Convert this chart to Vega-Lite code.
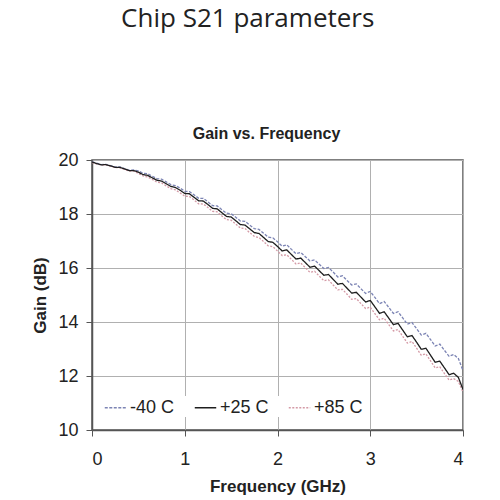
{
  "$schema": "https://vega.github.io/schema/vega-lite/v6.json",
  "background": "white",
  "padding": {"left": 31, "top": 6, "right": 10, "bottom": 0},
  "title": {"text": "Chip S21 parameters", "anchor": "middle", "frame": "bounds", "font": "Open Sans", "fontSize": 26, "fontWeight": "normal", "color": "#222222", "offset": 93},
  "vconcat": [
    {
      "width": 371,
      "height": 270,
      "title": {"text": "Gain vs. Frequency", "anchor": "middle", "frame": "group", "dx": -11, "font": "'Liberation Sans Narrow', 'Liberation Sans', sans-serif", "fontSize": 16, "fontWeight": "bold", "color": "#222222", "offset": 9},
      "data": {"values": [
        {"f":0.00,"g":19.93,"t":"-40 C"},{"f":0.05,"g":19.88,"t":"-40 C"},{"f":0.10,"g":19.83,"t":"-40 C"},{"f":0.15,"g":19.84,"t":"-40 C"},{"f":0.20,"g":19.79,"t":"-40 C"},{"f":0.25,"g":19.74,"t":"-40 C"},{"f":0.30,"g":19.74,"t":"-40 C"},{"f":0.35,"g":19.68,"t":"-40 C"},{"f":0.40,"g":19.62,"t":"-40 C"},{"f":0.45,"g":19.63,"t":"-40 C"},
        {"f":0.50,"g":19.60,"t":"-40 C"},{"f":0.55,"g":19.51,"t":"-40 C"},{"f":0.60,"g":19.49,"t":"-40 C"},{"f":0.65,"g":19.40,"t":"-40 C"},{"f":0.70,"g":19.31,"t":"-40 C"},{"f":0.75,"g":19.29,"t":"-40 C"},{"f":0.80,"g":19.19,"t":"-40 C"},{"f":0.85,"g":19.09,"t":"-40 C"},{"f":0.90,"g":19.05,"t":"-40 C"},{"f":0.95,"g":18.96,"t":"-40 C"},
        {"f":1.00,"g":18.84,"t":"-40 C"},{"f":1.05,"g":18.83,"t":"-40 C"},{"f":1.10,"g":18.71,"t":"-40 C"},{"f":1.15,"g":18.58,"t":"-40 C"},{"f":1.20,"g":18.58,"t":"-40 C"},{"f":1.25,"g":18.45,"t":"-40 C"},{"f":1.30,"g":18.31,"t":"-40 C"},{"f":1.35,"g":18.30,"t":"-40 C"},{"f":1.40,"g":18.16,"t":"-40 C"},{"f":1.45,"g":18.03,"t":"-40 C"},
        {"f":1.50,"g":18.01,"t":"-40 C"},{"f":1.55,"g":17.88,"t":"-40 C"},{"f":1.60,"g":17.74,"t":"-40 C"},{"f":1.65,"g":17.73,"t":"-40 C"},{"f":1.70,"g":17.59,"t":"-40 C"},{"f":1.75,"g":17.46,"t":"-40 C"},{"f":1.80,"g":17.43,"t":"-40 C"},{"f":1.85,"g":17.29,"t":"-40 C"},{"f":1.90,"g":17.14,"t":"-40 C"},{"f":1.95,"g":17.12,"t":"-40 C"},
        {"f":2.00,"g":16.97,"t":"-40 C"},{"f":2.05,"g":16.81,"t":"-40 C"},{"f":2.10,"g":16.86,"t":"-40 C"},{"f":2.15,"g":16.69,"t":"-40 C"},{"f":2.20,"g":16.53,"t":"-40 C"},{"f":2.25,"g":16.58,"t":"-40 C"},{"f":2.30,"g":16.42,"t":"-40 C"},{"f":2.35,"g":16.26,"t":"-40 C"},{"f":2.40,"g":16.30,"t":"-40 C"},{"f":2.45,"g":16.14,"t":"-40 C"},
        {"f":2.50,"g":15.98,"t":"-40 C"},{"f":2.55,"g":16.02,"t":"-40 C"},{"f":2.60,"g":15.85,"t":"-40 C"},{"f":2.65,"g":15.67,"t":"-40 C"},{"f":2.70,"g":15.71,"t":"-40 C"},{"f":2.75,"g":15.54,"t":"-40 C"},{"f":2.80,"g":15.37,"t":"-40 C"},{"f":2.85,"g":15.41,"t":"-40 C"},{"f":2.90,"g":15.23,"t":"-40 C"},{"f":2.95,"g":15.06,"t":"-40 C"},
        {"f":3.00,"g":15.13,"t":"-40 C"},{"f":3.05,"g":14.91,"t":"-40 C"},{"f":3.10,"g":14.68,"t":"-40 C"},{"f":3.15,"g":14.76,"t":"-40 C"},{"f":3.20,"g":14.54,"t":"-40 C"},{"f":3.25,"g":14.32,"t":"-40 C"},{"f":3.30,"g":14.38,"t":"-40 C"},{"f":3.35,"g":14.15,"t":"-40 C"},{"f":3.40,"g":13.92,"t":"-40 C"},{"f":3.45,"g":13.98,"t":"-40 C"},
        {"f":3.50,"g":13.75,"t":"-40 C"},{"f":3.55,"g":13.52,"t":"-40 C"},{"f":3.60,"g":13.58,"t":"-40 C"},{"f":3.65,"g":13.35,"t":"-40 C"},{"f":3.70,"g":13.11,"t":"-40 C"},{"f":3.75,"g":13.18,"t":"-40 C"},{"f":3.80,"g":12.95,"t":"-40 C"},{"f":3.85,"g":12.73,"t":"-40 C"},{"f":3.90,"g":12.80,"t":"-40 C"},{"f":3.95,"g":12.65,"t":"-40 C"},
        {"f":4.00,"g":12.20,"t":"-40 C"},
        {"f":0.00,"g":19.90,"t":"+85 C"},{"f":0.05,"g":19.86,"t":"+85 C"},{"f":0.10,"g":19.81,"t":"+85 C"},{"f":0.15,"g":19.82,"t":"+85 C"},{"f":0.20,"g":19.77,"t":"+85 C"},{"f":0.25,"g":19.72,"t":"+85 C"},{"f":0.30,"g":19.71,"t":"+85 C"},{"f":0.35,"g":19.65,"t":"+85 C"},{"f":0.40,"g":19.59,"t":"+85 C"},{"f":0.45,"g":19.59,"t":"+85 C"},
        {"f":0.50,"g":19.50,"t":"+85 C"},{"f":0.55,"g":19.41,"t":"+85 C"},{"f":0.60,"g":19.37,"t":"+85 C"},{"f":0.65,"g":19.28,"t":"+85 C"},{"f":0.70,"g":19.18,"t":"+85 C"},{"f":0.75,"g":19.15,"t":"+85 C"},{"f":0.80,"g":19.04,"t":"+85 C"},{"f":0.85,"g":18.94,"t":"+85 C"},{"f":0.90,"g":18.89,"t":"+85 C"},{"f":0.95,"g":18.78,"t":"+85 C"},
        {"f":1.00,"g":18.66,"t":"+85 C"},{"f":1.05,"g":18.65,"t":"+85 C"},{"f":1.10,"g":18.52,"t":"+85 C"},{"f":1.15,"g":18.38,"t":"+85 C"},{"f":1.20,"g":18.37,"t":"+85 C"},{"f":1.25,"g":18.24,"t":"+85 C"},{"f":1.30,"g":18.10,"t":"+85 C"},{"f":1.35,"g":18.08,"t":"+85 C"},{"f":1.40,"g":17.93,"t":"+85 C"},{"f":1.45,"g":17.79,"t":"+85 C"},
        {"f":1.50,"g":17.77,"t":"+85 C"},{"f":1.55,"g":17.63,"t":"+85 C"},{"f":1.60,"g":17.48,"t":"+85 C"},{"f":1.65,"g":17.46,"t":"+85 C"},{"f":1.70,"g":17.31,"t":"+85 C"},{"f":1.75,"g":17.17,"t":"+85 C"},{"f":1.80,"g":17.13,"t":"+85 C"},{"f":1.85,"g":16.98,"t":"+85 C"},{"f":1.90,"g":16.82,"t":"+85 C"},{"f":1.95,"g":16.79,"t":"+85 C"},
        {"f":2.00,"g":16.63,"t":"+85 C"},{"f":2.05,"g":16.46,"t":"+85 C"},{"f":2.10,"g":16.49,"t":"+85 C"},{"f":2.15,"g":16.32,"t":"+85 C"},{"f":2.20,"g":16.15,"t":"+85 C"},{"f":2.25,"g":16.19,"t":"+85 C"},{"f":2.30,"g":16.01,"t":"+85 C"},{"f":2.35,"g":15.84,"t":"+85 C"},{"f":2.40,"g":15.88,"t":"+85 C"},{"f":2.45,"g":15.70,"t":"+85 C"},
        {"f":2.50,"g":15.53,"t":"+85 C"},{"f":2.55,"g":15.56,"t":"+85 C"},{"f":2.60,"g":15.37,"t":"+85 C"},{"f":2.65,"g":15.19,"t":"+85 C"},{"f":2.70,"g":15.21,"t":"+85 C"},{"f":2.75,"g":15.03,"t":"+85 C"},{"f":2.80,"g":14.84,"t":"+85 C"},{"f":2.85,"g":14.87,"t":"+85 C"},{"f":2.90,"g":14.68,"t":"+85 C"},{"f":2.95,"g":14.50,"t":"+85 C"},
        {"f":3.00,"g":14.55,"t":"+85 C"},{"f":3.05,"g":14.31,"t":"+85 C"},{"f":3.10,"g":14.08,"t":"+85 C"},{"f":3.15,"g":14.14,"t":"+85 C"},{"f":3.20,"g":13.90,"t":"+85 C"},{"f":3.25,"g":13.67,"t":"+85 C"},{"f":3.30,"g":13.72,"t":"+85 C"},{"f":3.35,"g":13.47,"t":"+85 C"},{"f":3.40,"g":13.22,"t":"+85 C"},{"f":3.45,"g":13.28,"t":"+85 C"},
        {"f":3.50,"g":13.03,"t":"+85 C"},{"f":3.55,"g":12.77,"t":"+85 C"},{"f":3.60,"g":12.82,"t":"+85 C"},{"f":3.65,"g":12.56,"t":"+85 C"},{"f":3.70,"g":12.30,"t":"+85 C"},{"f":3.75,"g":12.34,"t":"+85 C"},{"f":3.80,"g":12.09,"t":"+85 C"},{"f":3.85,"g":11.85,"t":"+85 C"},{"f":3.90,"g":11.90,"t":"+85 C"},{"f":3.95,"g":11.80,"t":"+85 C"},
        {"f":4.00,"g":11.40,"t":"+85 C"},
        {"f":0.00,"g":19.92,"t":"+25 C"},{"f":0.05,"g":19.87,"t":"+25 C"},{"f":0.10,"g":19.82,"t":"+25 C"},{"f":0.15,"g":19.83,"t":"+25 C"},{"f":0.20,"g":19.78,"t":"+25 C"},{"f":0.25,"g":19.73,"t":"+25 C"},{"f":0.30,"g":19.73,"t":"+25 C"},{"f":0.35,"g":19.67,"t":"+25 C"},{"f":0.40,"g":19.61,"t":"+25 C"},{"f":0.45,"g":19.61,"t":"+25 C"},
        {"f":0.50,"g":19.55,"t":"+25 C"},{"f":0.55,"g":19.46,"t":"+25 C"},{"f":0.60,"g":19.43,"t":"+25 C"},{"f":0.65,"g":19.34,"t":"+25 C"},{"f":0.70,"g":19.25,"t":"+25 C"},{"f":0.75,"g":19.22,"t":"+25 C"},{"f":0.80,"g":19.12,"t":"+25 C"},{"f":0.85,"g":19.02,"t":"+25 C"},{"f":0.90,"g":18.98,"t":"+25 C"},{"f":0.95,"g":18.88,"t":"+25 C"},
        {"f":1.00,"g":18.76,"t":"+25 C"},{"f":1.05,"g":18.75,"t":"+25 C"},{"f":1.10,"g":18.62,"t":"+25 C"},{"f":1.15,"g":18.49,"t":"+25 C"},{"f":1.20,"g":18.48,"t":"+25 C"},{"f":1.25,"g":18.35,"t":"+25 C"},{"f":1.30,"g":18.21,"t":"+25 C"},{"f":1.35,"g":18.19,"t":"+25 C"},{"f":1.40,"g":18.05,"t":"+25 C"},{"f":1.45,"g":17.91,"t":"+25 C"},
        {"f":1.50,"g":17.89,"t":"+25 C"},{"f":1.55,"g":17.75,"t":"+25 C"},{"f":1.60,"g":17.61,"t":"+25 C"},{"f":1.65,"g":17.59,"t":"+25 C"},{"f":1.70,"g":17.45,"t":"+25 C"},{"f":1.75,"g":17.31,"t":"+25 C"},{"f":1.80,"g":17.28,"t":"+25 C"},{"f":1.85,"g":17.13,"t":"+25 C"},{"f":1.90,"g":16.98,"t":"+25 C"},{"f":1.95,"g":16.95,"t":"+25 C"},
        {"f":2.00,"g":16.80,"t":"+25 C"},{"f":2.05,"g":16.63,"t":"+25 C"},{"f":2.10,"g":16.67,"t":"+25 C"},{"f":2.15,"g":16.50,"t":"+25 C"},{"f":2.20,"g":16.33,"t":"+25 C"},{"f":2.25,"g":16.37,"t":"+25 C"},{"f":2.30,"g":16.20,"t":"+25 C"},{"f":2.35,"g":16.03,"t":"+25 C"},{"f":2.40,"g":16.07,"t":"+25 C"},{"f":2.45,"g":15.90,"t":"+25 C"},
        {"f":2.50,"g":15.73,"t":"+25 C"},{"f":2.55,"g":15.76,"t":"+25 C"},{"f":2.60,"g":15.58,"t":"+25 C"},{"f":2.65,"g":15.40,"t":"+25 C"},{"f":2.70,"g":15.43,"t":"+25 C"},{"f":2.75,"g":15.25,"t":"+25 C"},{"f":2.80,"g":15.07,"t":"+25 C"},{"f":2.85,"g":15.10,"t":"+25 C"},{"f":2.90,"g":14.92,"t":"+25 C"},{"f":2.95,"g":14.74,"t":"+25 C"},
        {"f":3.00,"g":14.80,"t":"+25 C"},{"f":3.05,"g":14.56,"t":"+25 C"},{"f":3.10,"g":14.32,"t":"+25 C"},{"f":3.15,"g":14.38,"t":"+25 C"},{"f":3.20,"g":14.14,"t":"+25 C"},{"f":3.25,"g":13.90,"t":"+25 C"},{"f":3.30,"g":13.95,"t":"+25 C"},{"f":3.35,"g":13.70,"t":"+25 C"},{"f":3.40,"g":13.45,"t":"+25 C"},{"f":3.45,"g":13.50,"t":"+25 C"},
        {"f":3.50,"g":13.25,"t":"+25 C"},{"f":3.55,"g":12.99,"t":"+25 C"},{"f":3.60,"g":13.03,"t":"+25 C"},{"f":3.65,"g":12.77,"t":"+25 C"},{"f":3.70,"g":12.51,"t":"+25 C"},{"f":3.75,"g":12.55,"t":"+25 C"},{"f":3.80,"g":12.30,"t":"+25 C"},{"f":3.85,"g":12.05,"t":"+25 C"},{"f":3.90,"g":12.10,"t":"+25 C"},{"f":3.95,"g":11.95,"t":"+25 C"},
        {"f":4.00,"g":11.50,"t":"+25 C"}
      ]},
      "mark": {"type": "line", "strokeWidth": 1.3, "clip": true},
      "encoding": {
        "x": {"field": "f", "type": "quantitative", "scale": {"domain": [0, 4], "nice": false},
              "axis": {"title": "Frequency (GHz)", "values": [0, 0.5, 1, 1.5, 2, 2.5, 3, 3.5, 4], "format": "d", "labelExpr": "datum.value % 1 == 0 ? format(datum.value, 'd') : ''", "titlePadding": 10, "labelPadding": 14}},
        "y": {"field": "g", "type": "quantitative", "scale": {"domain": [10, 20], "nice": false, "zero": false},
              "axis": {"title": "Gain (dB)", "values": [10, 12, 14, 16, 18, 20], "format": "d", "labelPadding": 8, "titlePadding": 8}},
        "color": {"field": "t", "type": "nominal", "title": null,
                  "scale": {"domain": ["-40 C", "+25 C", "+85 C"], "range": ["#7c84b4", "#1e1e1e", "#d49aa6"]}},
        "strokeDash": {"field": "t", "type": "nominal", "title": null,
                  "scale": {"domain": ["-40 C", "+25 C", "+85 C"], "range": [[3, 1.5], [1, 0], [2, 1.5]]}}
      }
    }
  ],
  "config": {
    "view": {"stroke": "#555555", "strokeWidth": 1.5},
    "axis": {
      "labelFont": "'Liberation Sans Narrow', 'Liberation Sans', sans-serif",
      "labelFontSize": 18,
      "labelColor": "#222222",
      "titleFont": "'Liberation Sans Narrow', 'Liberation Sans', sans-serif",
      "titleFontSize": 17,
      "titleFontWeight": "bold",
      "titleColor": "#222222",
      "gridColor": "#b0b0b0",
      "gridWidth": 1,
      "gridOpacity": 1,
      "domainColor": "#555555",
      "domainWidth": 1.5,
      "tickColor": "#555555",
      "tickSize": 6
    },
    "legend": {
      "orient": "none",
      "legendX": 12,
      "legendY": 236,
      "direction": "horizontal",
      "columns": 3,
      "columnPadding": 16,
      "symbolType": "stroke",
      "symbolSize": 460,
      "symbolStrokeWidth": 1.5,
      "labelOffset": 3,
      "labelFont": "'Liberation Sans Narrow', 'Liberation Sans', sans-serif",
      "labelFontSize": 18,
      "labelColor": "#222222",
      "fillColor": "white"
    }
  }
}
